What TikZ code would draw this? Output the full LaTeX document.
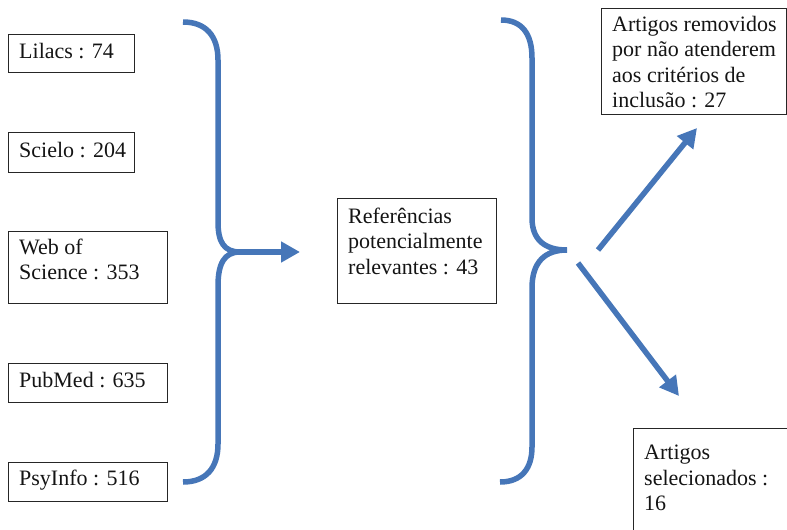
\documentclass[tikz,border=0pt]{standalone}
\usepackage{fontspec}
\setmainfont{Liberation Serif}
\usetikzlibrary{arrows.meta}
\definecolor{bblue}{RGB}{70,118,184}
\begin{document}
\begin{tikzpicture}[x=1pt,y=-1pt,
  box/.style={draw=black!85, line width=1.2pt, anchor=north west, inner sep=0pt},
  txt/.style={anchor=north west, inner sep=0pt, align=left, font=\fontsize{22}{25.3}\selectfont, text=black!92},
  brace/.style={draw=bblue, line width=5.5pt},
  arr/.style={draw=bblue, line width=5.5pt, -{Triangle[width=20pt,length=19pt]}}]
\useasboundingbox (0,0) rectangle (787,530);
\clip (0,0) rectangle (787,530);
% source boxes
\node[box, minimum width=126pt, minimum height=38pt] (lil) at (8,34) {};
\node[box, minimum width=126pt, minimum height=40pt] (sci) at (8,132) {};
\node[box, minimum width=159pt, minimum height=72pt] (wos) at (8,231) {};
\node[box, minimum width=159pt, minimum height=39pt] (pub) at (8,363) {};
\node[box, minimum width=159pt, minimum height=39pt] (psy) at (8,462) {};
\node[txt] (tlil) at (19,43) {Lilacs : 74};
\node[txt] (tsci) at (19,142) {Scielo : 204};
\node[txt] (twos) at (19,239) {Web of\\Science : 353};
\node[txt] (tpub) at (19,372) {PubMed : 635};
\node[txt] (tpsy) at (19,470) {PsyInfo : 516};
% center box
\node[box, minimum width=159pt, minimum height=105pt] (ref) at (337,198) {};
\node[txt] (tref) at (348,208) {Referências\\potencialmente\\relevantes : 43};
% right boxes
\node[box, minimum width=185pt, minimum height=106pt] (rem) at (601,8) {};
\node[txt] (trem) at (612,16) {Artigos removidos\\por não atenderem\\aos critérios de\\inclusão : 27};
\node[box, minimum width=200pt, minimum height=140pt] (sel) at (633,428) {};
\node[txt] (tsel) at (644,445) {Artigos\\selecionados :\\16};
% left brace
\draw[brace] (183,22) .. controls (206,22) and (218,36) .. (218,60) -- (218,222)
  .. controls (218,242) and (224,252) .. (240,252)
  .. controls (224,252) and (218,264) .. (218,286) -- (218,444)
  .. controls (218,468) and (206,482) .. (183,482);
\coordinate (lt) at (236,252);
\coordinate (le) at (300,252);
\draw[arr] (lt) -- (le);
% right brace
\draw[brace] (501,20) .. controls (522,20) and (532,34) .. (532,58) -- (532,218)
  .. controls (532,240) and (545,250) .. (567,250)
  .. controls (545,250) and (532,262) .. (532,288) -- (532,447)
  .. controls (532,468) and (522,482) .. (500,482);
\coordinate (u0) at (598,250);
\coordinate (u1) at (697,128);
\coordinate (d0) at (578,263);
\coordinate (d1) at (679,396);
\draw[arr] (u0) -- (u1);
\draw[arr] (d0) -- (d1);
\end{tikzpicture}
\end{document}
